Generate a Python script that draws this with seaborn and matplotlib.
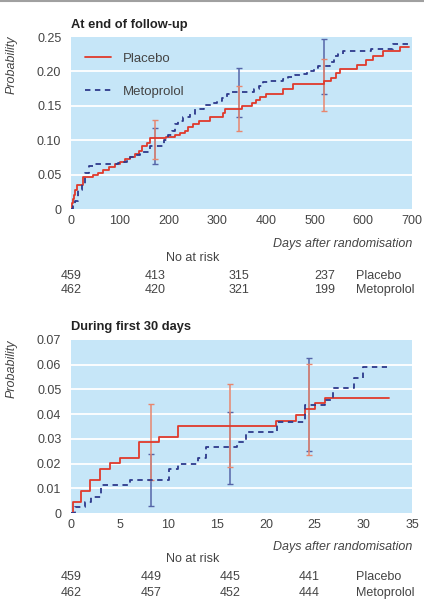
import numpy as np
import pandas as pd
import matplotlib
matplotlib.use("Agg")
import matplotlib.pyplot as plt
import matplotlib.transforms as mtransforms
import seaborn as sns

# ---------------- data ----------------
# Top panel: cumulative probability until end of follow-up
top_placebo_days = [0, 2, 4, 6, 9, 12, 25, 46, 56, 66, 77, 90, 100, 111, 121, 131, 140, 146, 155, 162,
                    195, 214, 224, 233, 241, 251, 262, 285, 312, 316, 351, 372, 380, 388, 400, 435,
                    456, 520, 533, 544, 552, 588, 606, 620, 641, 676, 694]
top_placebo_prob = [0, 0.008, 0.015, 0.020, 0.027, 0.035, 0.046, 0.050, 0.053, 0.057, 0.061, 0.066,
                    0.068, 0.072, 0.076, 0.080, 0.085, 0.091, 0.096, 0.103, 0.105, 0.107, 0.110, 0.114,
                    0.119, 0.124, 0.128, 0.133, 0.139, 0.145, 0.149, 0.154, 0.158, 0.163, 0.167, 0.174,
                    0.182, 0.186, 0.191, 0.197, 0.203, 0.210, 0.217, 0.223, 0.229, 0.235, 0.235]
top_meto_days = [0, 4, 8, 15, 22, 29, 36, 49, 97, 108, 114, 122, 130, 142, 162, 190, 200, 207, 213,
                 220, 230, 244, 255, 272, 289, 299, 309, 320, 327, 375, 385, 395, 405, 435, 446, 460,
                 474, 484, 498, 508, 532, 539, 549, 559, 615, 662, 694]
top_meto_prob = [0, 0.005, 0.011, 0.027, 0.037, 0.052, 0.062, 0.065, 0.067, 0.069, 0.071, 0.075,
                 0.079, 0.083, 0.091, 0.100, 0.107, 0.114, 0.124, 0.128, 0.133, 0.138, 0.1455, 0.151,
                 0.154, 0.1575, 0.162, 0.167, 0.170, 0.174, 0.179, 0.184, 0.186, 0.189, 0.192, 0.195,
                 0.196, 0.201, 0.205, 0.208, 0.213, 0.2225, 0.225, 0.230, 0.233, 0.240, 0.240]
top_err_days = [172, 345, 520]
top_placebo_lo = [0.073, 0.113, 0.143]
top_placebo_hi = [0.129, 0.179, 0.218]
top_meto_lo = [0.066, 0.134, 0.167]
top_meto_hi = [0.118, 0.205, 0.247]
top_risk_placebo = ["459", "413", "315", "237"]
top_risk_meto = ["462", "420", "321", "199"]

# Bottom panel: first 30 days
bot_placebo_days = [0, 0.2, 1, 2, 3, 4, 5, 7, 9, 11, 21, 23.1, 24, 25, 26.1, 32.6]
bot_placebo_prob = [0, 0.0045, 0.009, 0.0134, 0.0178, 0.0201, 0.0221, 0.0287, 0.0309, 0.0353,
                    0.0374, 0.0397, 0.0421, 0.0444, 0.0464, 0.0464]
bot_meto_days = [0, 0.4, 1.4, 2.1, 3.05, 6.1, 10.1, 11, 13, 13.9, 17, 18, 21.1, 24, 26.1, 26.9,
                 29, 30, 32.4]
bot_meto_prob = [0, 0.0026, 0.0046, 0.0066, 0.0113, 0.0134, 0.0177, 0.0198, 0.0221, 0.0266,
                 0.0289, 0.0329, 0.0370, 0.0435, 0.0457, 0.0505, 0.0547, 0.0592, 0.0592]
bot_err_days = [8.2, 16.3, 24.4]
bot_placebo_lo = [0.0134, 0.0185, 0.0235]
bot_placebo_hi = [0.044, 0.052, 0.0602]
bot_meto_lo = [0.003, 0.0117, 0.0252]
bot_meto_hi = [0.0238, 0.041, 0.0626]
bot_risk_placebo = ["459", "449", "445", "441"]
bot_risk_meto = ["462", "457", "452", "444"]

top_xticks = [0, 100, 200, 300, 400, 500, 600, 700]
top_yticks = [0, 0.05, 0.10, 0.15, 0.20, 0.25]
bot_xticks = [0, 5, 10, 15, 20, 25, 30, 35]
bot_yticks = [0, 0.01, 0.02, 0.03, 0.04, 0.05, 0.06, 0.07]

# ---------------- style ----------------
sns.set_style("white")
plt.rcParams["font.family"] = ["Liberation Sans Narrow", "Liberation Sans", "DejaVu Sans"]

RED = "#e03a2c"
BLUE = "#2e3a8c"
RED_ERR = "#e8866e"
BLUE_ERR = "#5565a8"
BG = "#c6e6f8"
TXT = "#444444"
FS = 9

W, H = 424, 602
fig = plt.figure(figsize=(W / 100, H / 100), dpi=100)


def px(x, y):
    return x / W, 1 - y / H


def fmt_tick(v, dec):
    return "0" if v == 0 else f"{v:.{dec}f}"


def panel(rect_px, pdays, pprob, mdays, mprob, edays, plo, phi, mlo, mhi,
          xticks, yticks, ydec, legend):
    l, t, r, b = rect_px
    ax = fig.add_axes([l / W, 1 - b / H, (r - l) / W, (b - t) / H])
    ax.set_facecolor(BG)
    for s in ax.spines.values():
        s.set_visible(False)
    for y in yticks[1:-1]:
        ax.axhline(y, color="white", lw=1.3, zorder=1)

    pdf = pd.DataFrame({"day": pdays, "prob": pprob})
    mdf = pd.DataFrame({"day": mdays, "prob": mprob})

    # error bars
    e = np.array(edays)
    pc = (np.array(plo) + np.array(phi)) / 2
    mc = (np.array(mlo) + np.array(mhi)) / 2
    ax.errorbar(e, mc, yerr=[mc - np.array(mlo), np.array(mhi) - mc], fmt="none",
                ecolor=BLUE_ERR, elinewidth=1.1, capsize=2.5, capthick=1.0, zorder=2)
    ax.errorbar(e, pc, yerr=[pc - np.array(plo), np.array(phi) - pc], fmt="none",
                ecolor=RED_ERR, elinewidth=1.1, capsize=2.5, capthick=1.0, zorder=2)

    sns.lineplot(data=pdf, x="day", y="prob", ax=ax, color=RED, lw=1.3,
                 drawstyle="steps-post", estimator=None, sort=False, label="Placebo", zorder=3)
    sns.lineplot(data=mdf, x="day", y="prob", ax=ax, color=BLUE, lw=1.3,
                 drawstyle="steps-post", estimator=None, sort=False, label="Metoprolol",
                 zorder=3, linestyle=(0, (3, 2.5)))

    ax.set_xlim(xticks[0], xticks[-1])
    ax.set_ylim(yticks[0], yticks[-1])
    ax.set_xticks(xticks)
    ax.set_yticks(yticks)
    ax.set_xticklabels([fmt_tick(v, 0) for v in xticks])
    ax.set_yticklabels([fmt_tick(v, ydec) for v in yticks])
    ax.tick_params(axis="x", direction="in", length=3, color="white", width=1,
                   pad=4, labelsize=FS, labelcolor=TXT)
    ax.tick_params(axis="y", length=0, pad=7, labelsize=FS, labelcolor=TXT)
    ax.set_xlabel("")
    ax.set_ylabel("")
    if legend:
        ax.legend(loc="upper left", bbox_to_anchor=(0.005, 0.98), frameon=False,
                  labelspacing=1.6, handlelength=2.0, handletextpad=0.9,
                  fontsize=9.5, labelcolor=TXT)
    else:
        lg = ax.get_legend()
        if lg is not None:
            lg.remove()
    return ax


ax1 = panel((71, 37, 412, 209), top_placebo_days, top_placebo_prob, top_meto_days, top_meto_prob,
            top_err_days, top_placebo_lo, top_placebo_hi, top_meto_lo, top_meto_hi,
            top_xticks, top_yticks, 2, True)
ax2 = panel((71, 340, 412, 513), bot_placebo_days, bot_placebo_prob, bot_meto_days, bot_meto_prob,
            bot_err_days, bot_placebo_lo, bot_placebo_hi, bot_meto_lo, bot_meto_hi,
            bot_xticks, bot_yticks, 2, False)

# top rule
fig.add_artist(plt.Line2D([0, 1], [1 - 1 / H, 1 - 1 / H], color="#a0a0a0", lw=1.5,
                          transform=fig.transFigure))

# text
for ax, title, ty, ly, daysy, risky, rows_p, rows_m, edays in [
    (ax1, "At end of follow-up", 25, 35, 244, (258, 276, 290), top_risk_placebo, top_risk_meto,
     [0] + top_err_days),
    (ax2, "During first 30 days", 327, 340, 547, (559, 577, 593), bot_risk_placebo, bot_risk_meto,
     [0] + bot_err_days),
]:
    fig.text(*px(71, ty), title, fontsize=9.3, fontweight="bold", color="#222222",
             ha="left", va="center")
    fig.text(*px(12, ly), "Probability", fontsize=FS, style="italic", color=TXT,
             rotation=90, ha="center", va="top")
    fig.text(*px(412, daysy), "Days after randomisation", fontsize=FS, style="italic",
             color=TXT, ha="right", va="center")
    fig.text(*px(193, risky[0]), "No at risk", fontsize=FS, color=TXT, ha="center", va="center")
    trans = mtransforms.blended_transform_factory(ax.transData, fig.transFigure)
    for d, a, b in zip(edays, rows_p, rows_m):
        ax.text(d, 1 - risky[1] / H, a, transform=trans, fontsize=FS, color=TXT,
                ha="center", va="center", clip_on=False)
        ax.text(d, 1 - risky[2] / H, b, transform=trans, fontsize=FS, color=TXT,
                ha="center", va="center", clip_on=False)
    fig.text(*px(356, risky[1]), "Placebo", fontsize=FS, color=TXT, ha="left", va="center")
    fig.text(*px(356, risky[2]), "Metoprolol", fontsize=FS, color=TXT, ha="left", va="center")

fig.savefig("out.png", dpi=100)
